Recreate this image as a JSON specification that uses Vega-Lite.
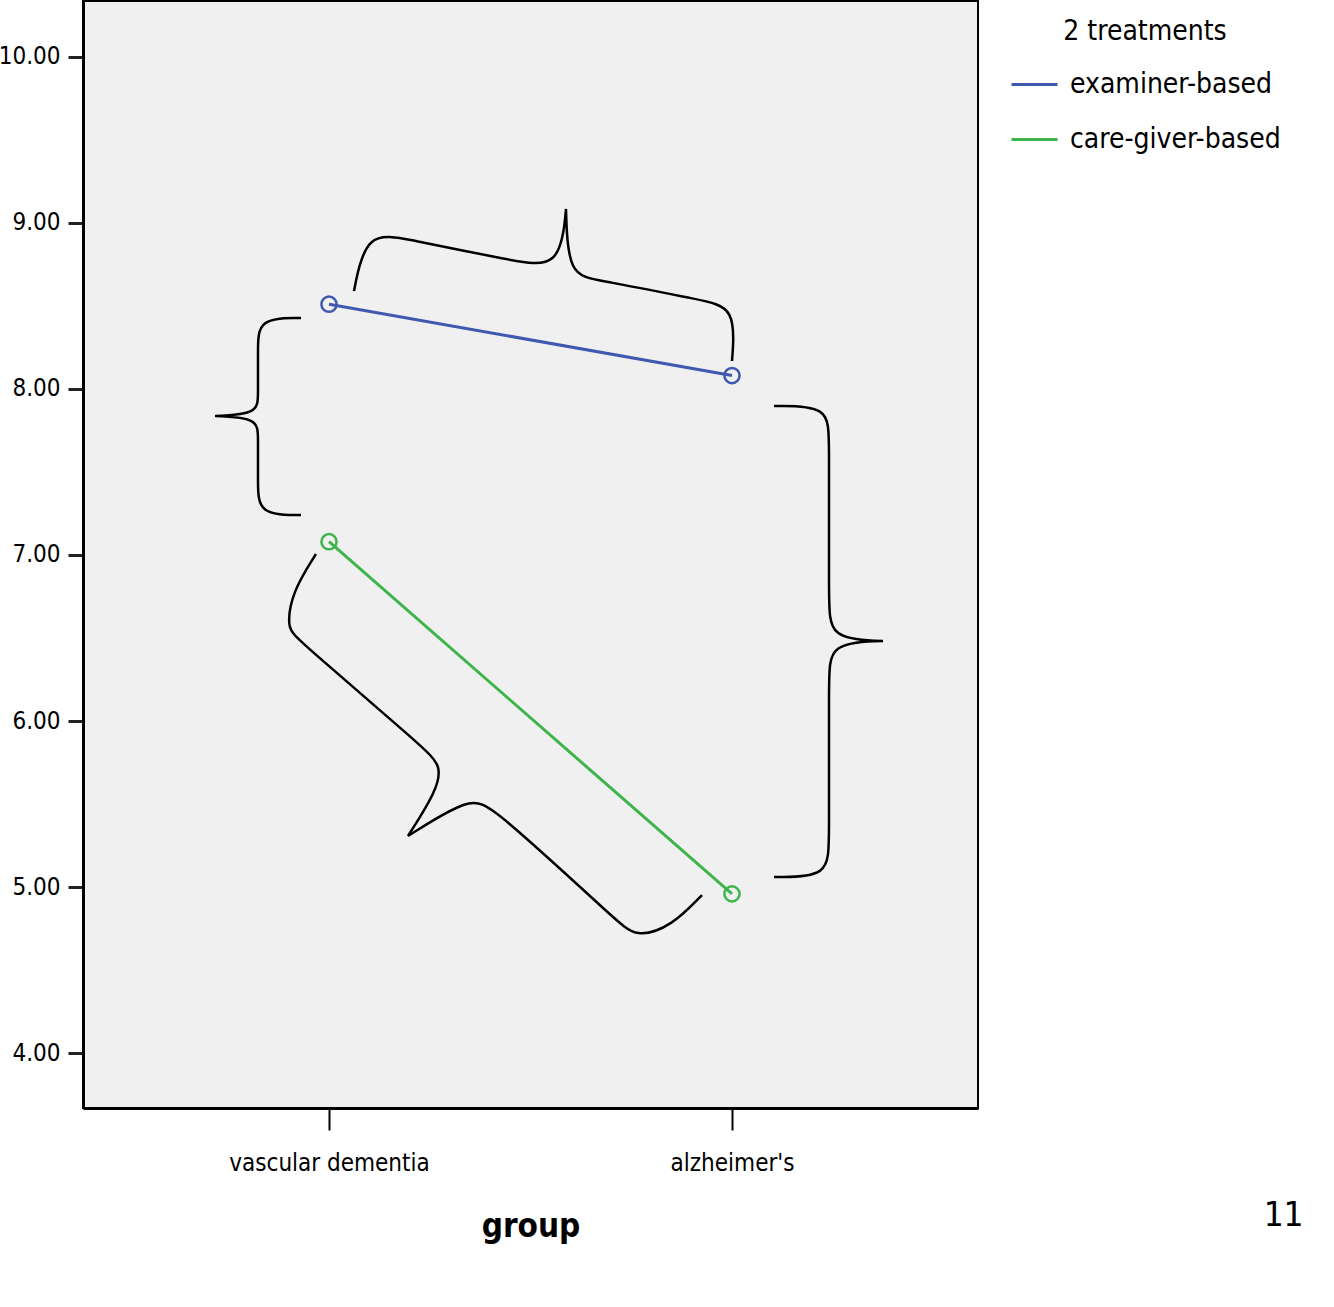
{
  "$schema": "https://vega.github.io/schema/vega-lite/v6.json",
  "width": 895,
  "height": 1107,
  "autosize": {"type": "none"},
  "padding": {"left": 83, "top": 1, "right": 356, "bottom": 199},
  "background": "#ffffff",
  "view": {"fill": "#f0f0f0", "stroke": "#000000", "strokeWidth": 2},
  "title": {
    "text": "11",
    "orient": "bottom",
    "anchor": "end",
    "frame": "group",
    "font": "DejaVu Sans Mono",
    "fontSize": 33,
    "fontWeight": "normal",
    "color": "#000000",
    "dx": 325,
    "dy": -47
  },
  "datasets": {
    "means": [
      {"group": "vascular dementia", "treatment": "examiner-based", "score": 8.51},
      {"group": "alzheimer's", "treatment": "examiner-based", "score": 8.08},
      {"group": "vascular dementia", "treatment": "care-giver-based", "score": 7.08},
      {"group": "alzheimer's", "treatment": "care-giver-based", "score": 4.96}
    ],
    "braces": [
      {"brace": "left", "ord": 1, "gx": -0.0695, "score": 8.4269},
      {"brace": "left", "ord": 2, "gx": -0.1762, "score": 8.4269},
      {"brace": "left", "ord": 3, "gx": -0.1762, "score": 8.2342},
      {"brace": "left", "ord": 4, "gx": -0.1762, "score": 7.9633},
      {"brace": "left", "ord": 5, "gx": -0.1762, "score": 7.8489},
      {"brace": "left", "ord": 6, "gx": -0.2829, "score": 7.8369},
      {"brace": "left", "ord": 7, "gx": -0.2829, "score": 7.8369},
      {"brace": "left", "ord": 8, "gx": -0.2829, "score": 7.8369},
      {"brace": "left", "ord": 9, "gx": -0.1762, "score": 7.8248},
      {"brace": "left", "ord": 10, "gx": -0.1762, "score": 7.7104},
      {"brace": "left", "ord": 11, "gx": -0.1762, "score": 7.4395},
      {"brace": "left", "ord": 12, "gx": -0.1762, "score": 7.2409},
      {"brace": "left", "ord": 13, "gx": -0.0695, "score": 7.2409},
      {"brace": "top", "ord": 1, "gx": 0.062, "score": 8.5894},
      {"brace": "top", "ord": 2, "gx": 0.0918, "score": 8.9507},
      {"brace": "top", "ord": 3, "gx": 0.201, "score": 8.8965},
      {"brace": "top", "ord": 4, "gx": 0.4491, "score": 8.7761},
      {"brace": "top", "ord": 5, "gx": 0.5732, "score": 8.7189},
      {"brace": "top", "ord": 6, "gx": 0.5881, "score": 9.0831},
      {"brace": "top", "ord": 7, "gx": 0.5881, "score": 9.0831},
      {"brace": "top", "ord": 8, "gx": 0.5881, "score": 9.0831},
      {"brace": "top", "ord": 9, "gx": 0.5931, "score": 8.6798},
      {"brace": "top", "ord": 10, "gx": 0.6725, "score": 8.6557},
      {"brace": "top", "ord": 11, "gx": 0.9206, "score": 8.5353},
      {"brace": "top", "ord": 12, "gx": 1.0099, "score": 8.4931},
      {"brace": "top", "ord": 13, "gx": 1.0, "score": 8.168},
      {"brace": "right", "ord": 1, "gx": 1.1042, "score": 7.8971},
      {"brace": "right", "ord": 2, "gx": 1.2407, "score": 7.8971},
      {"brace": "right", "ord": 3, "gx": 1.2407, "score": 7.6924},
      {"brace": "right", "ord": 4, "gx": 1.2407, "score": 6.7291},
      {"brace": "right", "ord": 5, "gx": 1.2407, "score": 6.4943},
      {"brace": "right", "ord": 6, "gx": 1.3747, "score": 6.4823},
      {"brace": "right", "ord": 7, "gx": 1.3747, "score": 6.4823},
      {"brace": "right", "ord": 8, "gx": 1.3747, "score": 6.4823},
      {"brace": "right", "ord": 9, "gx": 1.2407, "score": 6.4702},
      {"brace": "right", "ord": 10, "gx": 1.2407, "score": 6.2475},
      {"brace": "right", "ord": 11, "gx": 1.2407, "score": 5.2842},
      {"brace": "right", "ord": 12, "gx": 1.2407, "score": 5.0614},
      {"brace": "right", "ord": 13, "gx": 1.1042, "score": 5.0614},
      {"brace": "diag", "ord": 1, "gx": -0.0323, "score": 7.0061},
      {"brace": "diag", "ord": 2, "gx": -0.0918, "score": 6.7773},
      {"brace": "diag", "ord": 3, "gx": -0.1042, "score": 6.5605},
      {"brace": "diag", "ord": 4, "gx": -0.0819, "score": 6.5003},
      {"brace": "diag", "ord": 5, "gx": 0.2357, "score": 5.8381},
      {"brace": "diag", "ord": 6, "gx": 0.2804, "score": 5.7297},
      {"brace": "diag", "ord": 7, "gx": 0.2655, "score": 5.5732},
      {"brace": "diag", "ord": 8, "gx": 0.196, "score": 5.3083},
      {"brace": "diag", "ord": 9, "gx": 0.196, "score": 5.3083},
      {"brace": "diag", "ord": 10, "gx": 0.196, "score": 5.3083},
      {"brace": "diag", "ord": 11, "gx": 0.3499, "score": 5.5431},
      {"brace": "diag", "ord": 12, "gx": 0.4045, "score": 5.4889},
      {"brace": "diag", "ord": 13, "gx": 0.7122, "score": 4.8026},
      {"brace": "diag", "ord": 14, "gx": 0.7618, "score": 4.6942},
      {"brace": "diag", "ord": 15, "gx": 0.8511, "score": 4.7664},
      {"brace": "diag", "ord": 16, "gx": 0.9256, "score": 4.9531}
    ]
  },
  "encoding": {
    "y": {
      "field": "score",
      "type": "quantitative",
      "scale": {"domain": [3.671, 10.335], "nice": false, "zero": false},
      "axis": {
        "title": null,
        "values": [4, 5, 6, 7, 8, 9, 10],
        "format": ".2f",
        "labelFont": "DejaVu Sans Condensed",
        "labelFontSize": 24,
        "labelColor": "#000000",
        "labelPadding": 8,
        "labelLimit": 0,
        "tickSize": 15,
        "tickWidth": 3,
        "tickColor": "#222222",
        "domainColor": "#000000",
        "domainWidth": 3,
        "grid": false
      }
    }
  },
  "layer": [
    {
      "data": {"name": "means"},
      "encoding": {
        "x": {
          "field": "group",
          "type": "nominal",
          "sort": null,
          "scale": {"type": "point", "domain": ["vascular dementia", "alzheimer's"], "padding": 0.6104},
          "axis": {
            "title": "group",
            "titleFont": "DejaVu Sans Condensed",
            "titleFontSize": 33,
            "titleFontWeight": "bold",
            "titleColor": "#000000",
            "titlePadding": 35,
            "labelFont": "DejaVu Sans Condensed",
            "labelFontSize": 24,
            "labelColor": "#000000",
            "labelAngle": 0,
            "labelPadding": 21,
            "labelLimit": 0,
            "tickSize": 22,
            "tickWidth": 2,
            "tickColor": "#000000",
            "domainColor": "#000000",
            "domainWidth": 3,
            "grid": false
          }
        },
        "color": {
          "field": "treatment",
          "type": "nominal",
          "scale": {"domain": ["examiner-based", "care-giver-based"], "range": ["#3f58b0", "#3db54a"]},
          "legend": {
            "title": "2 treatments",
            "orient": "none",
            "legendX": 927,
            "legendY": 17,
            "padding": 0,
            "titleAnchor": "middle",
            "titleFont": "DejaVu Sans Condensed",
            "titleFontSize": 28,
            "titleFontWeight": "normal",
            "titleColor": "#000000",
            "titlePadding": 14,
            "titleLimit": 0,
            "labelFont": "DejaVu Sans Condensed",
            "labelFontSize": 28,
            "labelColor": "#000000",
            "labelOffset": 11,
            "labelLimit": 0,
            "symbolType": "stroke",
            "symbolSize": 2116,
            "symbolStrokeWidth": 3,
            "rowPadding": 16
          }
        }
      },
      "layer": [
        {"mark": {"type": "line", "strokeWidth": 3}},
        {
          "mark": {"type": "point", "shape": "circle", "filled": false, "size": 230, "strokeWidth": 2.5, "opacity": 1},
          "encoding": {"color": {"field": "treatment", "type": "nominal", "legend": null}}
        }
      ]
    },
    {
      "data": {"name": "braces"},
      "mark": {"type": "line", "interpolate": "basis", "color": "#000000", "strokeWidth": 2.5},
      "encoding": {
        "x": {"field": "gx", "type": "quantitative", "scale": {"domain": [-0.6104, 1.6104], "nice": false, "zero": false}, "axis": null},
        "detail": {"field": "brace", "type": "nominal"},
        "order": {"field": "ord", "type": "quantitative"}
      }
    }
  ],
  "resolve": {"scale": {"x": "independent"}}
}
